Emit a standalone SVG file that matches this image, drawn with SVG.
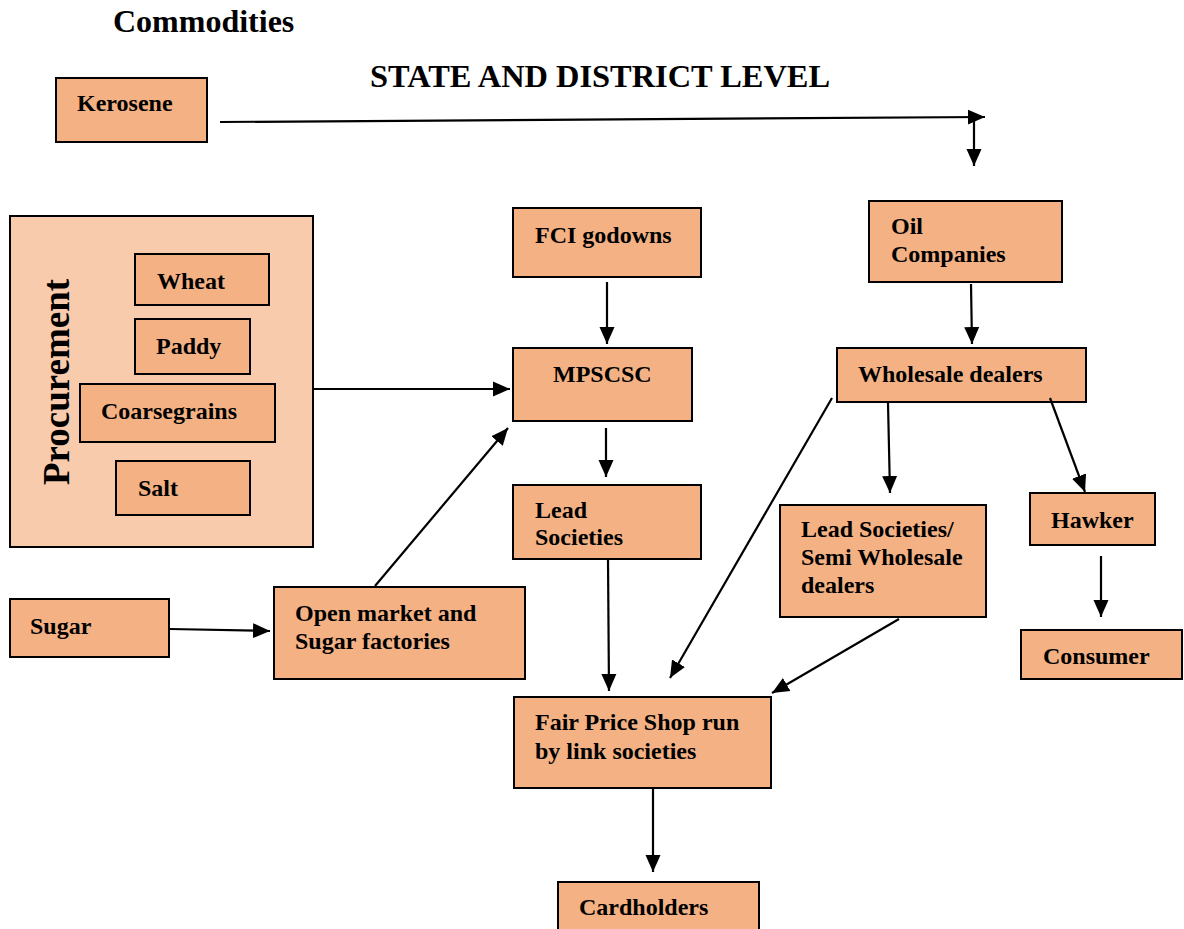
<svg xmlns="http://www.w3.org/2000/svg" width="1184" height="929" viewBox="0 0 1184 929">
<style>
text{font-family:"Liberation Serif","Times New Roman",serif;font-weight:bold;fill:#000}
.t{font-size:24px}
.h{font-size:32px}
.box{fill:#F4B183;stroke:#000;stroke-width:2}
.outer{fill:#F8CBAD;stroke:#000;stroke-width:2}
.c line,.c path{stroke:#000;stroke-width:2.2;fill:none}
</style>
<defs>
<marker id="ah" markerUnits="userSpaceOnUse" markerWidth="18" markerHeight="18" viewBox="0 0 18 18" refX="17" refY="9" orient="auto">
<path d="M0,1.5 L17,9 L0,16.5 Z" fill="#000"/>
</marker>
</defs>
<rect width="1184" height="929" fill="#fff"/>
<text class="h" x="113" y="32">Commodities</text>
<text class="h" x="370" y="87" textLength="460" lengthAdjust="spacingAndGlyphs">STATE AND DISTRICT LEVEL</text>

<g id="kerosene"><rect class="box" x="56" y="78" width="151" height="64"/><text class="t" x="77" y="111">Kerosene</text></g>
<g id="procurement"><rect class="outer" x="10" y="216" width="303" height="331"/>
<text style="font-size:37px" transform="translate(69,382) rotate(-90)" text-anchor="middle">Procurement</text></g>
<g id="wheat"><rect class="box" x="135" y="254" width="134" height="51"/><text class="t" x="157" y="289">Wheat</text></g>
<g id="paddy"><rect class="box" x="135" y="319" width="115" height="55"/><text class="t" x="156" y="354">Paddy</text></g>
<g id="coarsegrains"><rect class="box" x="80" y="384" width="195" height="58"/><text class="t" x="101" y="419">Coarsegrains</text></g>
<g id="salt"><rect class="box" x="116" y="461" width="134" height="54"/><text class="t" x="138" y="496">Salt</text></g>
<g id="sugar"><rect class="box" x="10" y="599" width="159" height="58"/><text class="t" x="30" y="634">Sugar</text></g>
<g id="openmarket"><rect class="box" x="274" y="587" width="251" height="92"/><text class="t" x="295" y="621">Open market and</text><text class="t" x="295" y="649">Sugar factories</text></g>
<g id="fci"><rect class="box" x="513" y="208" width="188" height="69"/><text class="t" x="535" y="243">FCI godowns</text></g>
<g id="mpscsc"><rect class="box" x="513" y="348" width="179" height="73"/><text class="t" x="553" y="382">MPSCSC</text></g>
<g id="lead"><rect class="box" x="513" y="485" width="188" height="74"/><text class="t" x="535" y="518">Lead</text><text class="t" x="535" y="545">Societies</text></g>
<g id="fps"><rect class="box" x="514" y="697" width="257" height="91"/><text class="t" x="535" y="730">Fair Price Shop run</text><text class="t" x="535" y="759">by link societies</text></g>
<g id="cardholders"><rect class="box" x="558" y="882" width="201" height="50"/><text class="t" x="579" y="915">Cardholders</text></g>
<g id="oil"><rect class="box" x="869" y="201" width="193" height="81"/><text class="t" x="891" y="234">Oil</text><text class="t" x="891" y="262">Companies</text></g>
<g id="wholesale"><rect class="box" x="837" y="348" width="249" height="54"/><text class="t" x="858" y="382">Wholesale dealers</text></g>
<g id="semi"><rect class="box" x="780" y="505" width="206" height="112"/><text class="t" x="801" y="537">Lead Societies/</text><text class="t" x="801" y="565">Semi Wholesale</text><text class="t" x="801" y="593">dealers</text></g>
<g id="hawker"><rect class="box" x="1030" y="493" width="125" height="52"/><text class="t" x="1051" y="528">Hawker</text></g>
<g id="consumer"><rect class="box" x="1021" y="630" width="161" height="49"/><text class="t" x="1043" y="664">Consumer</text></g>

<g id="connectors" class="c">
<line x1="220" y1="122" x2="985" y2="117" marker-end="url(#ah)"/>
<line x1="974" y1="118" x2="974" y2="166" marker-end="url(#ah)"/>
<line x1="607" y1="282" x2="607" y2="344" marker-end="url(#ah)"/>
<line x1="606" y1="428" x2="606" y2="477" marker-end="url(#ah)"/>
<line x1="608" y1="560" x2="609" y2="691" marker-end="url(#ah)"/>
<line x1="313" y1="389" x2="510" y2="389" marker-end="url(#ah)"/>
<line x1="375" y1="586" x2="508" y2="428" marker-end="url(#ah)"/>
<line x1="170" y1="629" x2="270" y2="631" marker-end="url(#ah)"/>
<line x1="971" y1="284" x2="972" y2="344" marker-end="url(#ah)"/>
<line x1="888" y1="403" x2="890" y2="493" marker-end="url(#ah)"/>
<line x1="1050" y1="398" x2="1085" y2="492" marker-end="url(#ah)"/>
<line x1="832" y1="398" x2="670" y2="678" marker-end="url(#ah)"/>
<line x1="1101" y1="556" x2="1101" y2="617" marker-end="url(#ah)"/>
<line x1="899" y1="619" x2="772" y2="693" marker-end="url(#ah)"/>
<line x1="653" y1="788" x2="653" y2="872" marker-end="url(#ah)"/>
</g>
</svg>
